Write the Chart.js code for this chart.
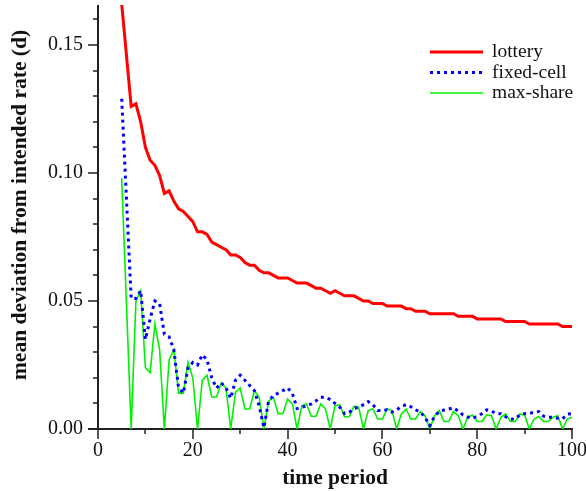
<!DOCTYPE html>
<html>
<head>
<meta charset="utf-8">
<script src="https://cdn.jsdelivr.net/npm/chart.js@4.4.0/dist/chart.umd.min.js"></script>
<style>
html,body{margin:0;padding:0;background:#fff;}
#wrap{width:586px;height:491px;position:relative;}
</style>
</head>
<body>
<div id="wrap"><canvas id="c" width="586" height="491"></canvas></div>
<script>
const periods = [5,6,7,8,9,10,11,12,13,14,15,16,17,18,19,20,21,22,23,24,25,26,27,28,29,30,
31,32,33,34,35,36,37,38,39,40,41,42,43,44,45,46,47,48,49,50,51,52,53,54,55,56,57,58,59,60,
61,62,63,64,65,66,67,68,69,70,71,72,73,74,75,76,77,78,79,80,81,82,83,84,85,86,87,88,89,90,
91,92,93,94,95,96,97,98,99,100];

const lottery = [0.166,0.146,0.126,0.127,0.120,0.110,0.105,0.103,0.099,0.092,0.093,0.089,0.086,0.085,0.083,0.081,
0.077,0.077,0.076,0.073,0.072,0.071,0.070,0.068,0.068,0.067,0.065,0.064,0.064,0.062,0.061,0.061,0.060,0.059,0.059,0.059,
0.058,0.057,0.057,0.057,0.056,0.055,0.055,0.054,0.053,0.054,0.053,0.052,0.052,0.052,0.051,0.050,0.050,0.049,0.049,0.049,
0.048,0.048,0.048,0.048,0.047,0.047,0.046,0.046,0.046,0.045,0.045,0.045,0.045,0.045,0.045,0.044,0.044,0.044,0.044,0.043,
0.043,0.043,0.043,0.043,0.043,0.042,0.042,0.042,0.042,0.042,0.041,0.041,0.041,0.041,0.041,0.041,0.041,0.040,0.040,0.040];

const fixedCell = [0.129,0.090,0.051,0.051,0.054,0.035,0.043,0.050,0.049,0.037,0.036,0.031,0.016,0.014,0.024,0.026,
0.025,0.029,0.027,0.020,0.016,0.018,0.016,0.012,0.019,0.021,0.019,0.017,0.015,0.009,0.0005,0.011,0.013,0.014,0.015,0.016,
0.014,0.008,0.0085,0.009,0.0098,0.011,0.0124,0.0124,0.0115,0.010,0.0085,0.006,0.0065,0.008,0.0085,0.0095,0.0107,0.0095,0.0072,0.0072,
0.0075,0.0066,0.0075,0.0088,0.0095,0.0087,0.0075,0.0066,0.0045,0.0013,0.005,0.0068,0.0074,0.0078,0.0083,0.007,0.0055,0.0047,0.0042,0.005,
0.006,0.0075,0.007,0.006,0.006,0.0048,0.0038,0.0039,0.0055,0.006,0.0061,0.0065,0.0068,0.005,0.0046,0.0046,0.0042,0.004,0.0058,0.006];

const maxShare = [0.098,0.049,0,0.050,0.054,0.024,0.022,0.041,0.031,0,0.027,0.031,0.014,0.014,0.026,0.020,
0,0.019,0.021,0.0125,0.0125,0.018,0.016,0,0.0143,0.016,0.0078,0.0078,0.015,0.0124,0,0.011,0.0124,0.006,0.006,0.0117,
0.0098,0,0.0091,0.0098,0.005,0.005,0.0098,0.0078,0,0.0091,0.0094,0.0048,0.0048,0.0089,0.0085,0,0.0072,0.0078,0.0039,0.0039,
0.0078,0.0072,0,0.0059,0.0078,0.0039,0.0039,0.0068,0.0052,0,0.0052,0.0072,0.0029,0.0029,0.0068,0.0052,0,0.0046,0.0055,0.0029,
0.0029,0.0055,0.0052,0,0.0046,0.0059,0.0029,0.0029,0.0059,0.0055,0,0.0039,0.0049,0.0029,0.0029,0.0046,0.0052,0,0.0039,0.0046];

const seriesNames = ['lottery','fixed-cell','max-share'];
const xTickLabels = [0,20,40,60,80,100];
const yTickLabels = [0.00,0.05,0.10,0.15];
const xTitle = 'time period';
const yTitle = 'mean deviation from intended rate (d)';

function pts(arr){ return periods.map((p,i)=>({x:p,y:arr[i]})); }

const SERIF = '"Liberation Serif","Times New Roman",serif';
const AXIS = '#222';

const axesPlugin = {
  id:'axesPlugin',
  beforeDatasetsDraw(chart){
    const ctx = chart.ctx, xs = chart.scales.x, ys = chart.scales.y;
    const ca = chart.chartArea;
    ctx.save();
    ctx.strokeStyle = AXIS;
    ctx.lineWidth = 2;
    ctx.beginPath();
    ctx.moveTo(ca.left, ca.top); ctx.lineTo(ca.left, ca.bottom);
    ctx.moveTo(ca.left-10, ca.bottom); ctx.lineTo(ca.right+1, ca.bottom);
    ctx.stroke();
    ctx.lineWidth = 1.5;
    ctx.beginPath();
    for (let v=0; v<=100; v+=10){
      const px = Math.round(xs.getPixelForValue(v));
      const major = v % 20 === 0;
      ctx.moveTo(px, ca.bottom); ctx.lineTo(px, ca.bottom + (major?10:5));
    }
    for (let k=0; k<=16; k++){
      const v = k/100;
      const py = Math.round(ys.getPixelForValue(v));
      const major = k % 5 === 0;
      ctx.moveTo(ca.left - (major?10:5), py); ctx.lineTo(ca.left, py);
    }
    ctx.stroke();
    // y axis title
    ctx.translate(20, 205);
    ctx.rotate(-Math.PI/2);
    ctx.fillStyle = '#111';
    ctx.font = 'bold 21.5px ' + SERIF;
    ctx.textAlign = 'center';
    ctx.textBaseline = 'middle';
    ctx.fillText(yTitle, 0, 0);
    ctx.restore();
  }
};

const legendPlugin = {
  id:'legendPlugin',
  afterDatasetsDraw(chart){
    const ctx = chart.ctx;
    const x0 = 430, x1 = 483, tx = 492, ys0 = [52, 72.5, 93];
    ctx.save();
    chart.data.datasets.forEach((ds,i)=>{
      ctx.strokeStyle = ds.borderColor;
      ctx.lineWidth = ds.borderWidth;
      ctx.setLineDash(ds.borderDash || []);
      ctx.beginPath(); ctx.moveTo(x0, ys0[i]); ctx.lineTo(x1, ys0[i]); ctx.stroke();
      ctx.setLineDash([]);
      ctx.fillStyle = '#111';
      ctx.font = '19.5px ' + SERIF;
      ctx.textBaseline = 'middle';
      ctx.textAlign = 'left';
      ctx.fillText(ds.label, tx, ys0[i]);
    });
    ctx.restore();
  }
};

new Chart(document.getElementById('c'), {
  type:'line',
  data:{
    datasets:[
      {label:seriesNames[0], data:pts(lottery), borderColor:'#ff0000', borderWidth:3, pointRadius:0, fill:false, tension:0},
      {label:seriesNames[1], data:pts(fixedCell), borderColor:'#0000ff', borderWidth:3, borderDash:[3,4], pointRadius:0, fill:false, tension:0},
      {label:seriesNames[2], data:pts(maxShare), borderColor:'#00f000', borderWidth:1.6, pointRadius:0, fill:false, tension:0}
    ]
  },
  options:{
    responsive:false,
    animation:false,
    devicePixelRatio:1,
    layout:{padding:{top:5,right:14,left:0,bottom:0}},
    plugins:{legend:{display:false}, tooltip:{enabled:false}},
    scales:{
      x:{
        type:'linear', min:0, max:100,
        grid:{display:false, drawTicks:false},
        border:{display:false},
        ticks:{stepSize:20, padding:10, color:'#111', font:{family:SERIF, size:20},
          callback:(v)=> xTickLabels.includes(v) ? String(v) : ''},
        title:{display:true, text:xTitle, color:'#111', font:{family:SERIF, size:21.5, weight:'bold'}, padding:{top:0,bottom:0}},
        afterFit:(s)=>{ s.height = 62; s.paddingLeft = 0; s.paddingRight = 0; }
      },
      y:{
        type:'linear', min:0, max:0.1656,
        grid:{display:false, drawTicks:false},
        border:{display:false},
        ticks:{stepSize:0.05, padding:15, color:'#111', includeBounds:false, font:{family:SERIF, size:20},
          callback:(v)=> { const m = yTickLabels.find(t=>Math.abs(t-v)<1e-9); return m===undefined ? '' : m.toFixed(2); }},
        afterFit:(s)=>{ s.width = 98; s.paddingTop = 0; s.paddingBottom = 0; }
      }
    }
  },
  plugins:[axesPlugin, legendPlugin]
});
</script>
</body>
</html>
